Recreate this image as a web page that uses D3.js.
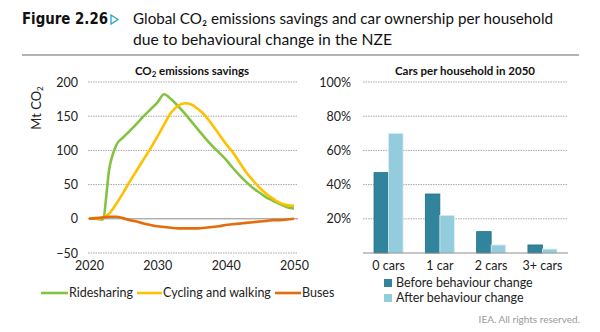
<!DOCTYPE html>
<html>
<head>
<meta charset="utf-8">
<script src="https://cdn.jsdelivr.net/npm/d3@7"></script>
<style>
  body { margin: 0; background: #fff; }
  svg { display: block; font-family: Lato, "Open Sans", sans-serif; }
</style>
</head>
<body>
<svg id="chart" width="600" height="332"></svg>
<script>
/* Data */
const years = d3.range(2020, 2051);
const ridesharing = [0, 0, -1, 75, 108, 119, 129, 139, 150, 160, 170, 182, 175, 165, 154, 142, 130, 118, 107, 97, 87, 75, 64, 54, 45, 38, 31, 26, 21, 17, 15];
const cycling = [0, 0, 2, 8, 22, 38, 55, 71, 87, 103, 120, 138, 155, 165, 169, 167, 160, 151, 138, 124, 110, 98, 83, 68, 56, 45, 36, 29, 23, 20, 19];
const buses = [0, 1, 2, 3, 3, 1, -2, -4, -7, -9, -11, -12, -13, -14, -14, -14, -14, -13, -12, -11, -9, -8, -7, -6, -5, -4, -3, -2, -2, -1, 0];
const lineNames = ["Ridesharing", "Cycling and walking", "Buses"];
const yTicksLeft = [-50, 0, 50, 100, 150, 200];
const xTicksLeft = [2020, 2030, 2040, 2050];

const carCats = ["0 cars", "1 car", "2 cars", "3+ cars"];
const beforeChange = [0.47, 0.345, 0.125, 0.047];
const afterChange = [0.70, 0.22, 0.047, 0.023];
const barNames = ["Before behaviour change", "After behaviour change"];
const yTicksRight = [0, 0.2, 0.4, 0.6, 0.8, 1.0];

const LINE_COLORS = ["#84c341", "#ffc000", "#e46c0a"];
const BAR_COLORS = ["#31849b", "#93cddd"];
const GRID = "#a6a6a6";

const svg = d3.select("#chart");

/* Header */
svg.append("text")
    .attr("x", 22).attr("y", 24)
    .attr("font-family", "'DejaVu Sans', sans-serif")
    .attr("font-weight", "bold").attr("font-size", 15)
    .attr("fill", "#111")
    .attr("textLength", 86).attr("lengthAdjust", "spacingAndGlyphs")
    .text("Figure 2.26");
svg.append("path")
    .attr("d", "M111,15 L118,19.5 L111,24 Z")
    .attr("fill", "none").attr("stroke", "#2aa3c8").attr("stroke-width", 1.3);
svg.append("text")
    .attr("x", 133).attr("y", 24)
    .attr("font-family", "Lato, sans-serif")
    .attr("font-size", 15).attr("fill", "#111")
    .attr("textLength", 420).attr("lengthAdjust", "spacingAndGlyphs")
    .text("Global CO\u2082 emissions savings and car ownership per household");
svg.append("text")
    .attr("x", 133).attr("y", 45)
    .attr("font-family", "Lato, sans-serif")
    .attr("font-size", 15).attr("fill", "#111")
    .attr("textLength", 259).attr("lengthAdjust", "spacingAndGlyphs")
    .text("due to behavioural change in the NZE");
svg.append("line")
    .attr("x1", 22).attr("x2", 579).attr("y1", 55).attr("y2", 55)
    .attr("stroke", "#9a9a9a").attr("stroke-width", 1.5);

/* Left chart: line chart */
const xL = d3.scaleLinear().domain([2020, 2050]).range([89, 294]);
const yL = d3.scaleLinear().domain([-50, 200]).range([253, 82]);

const left = svg.append("g");

let title = left.append("text")
    .attr("x", 192).attr("y", 75)
    .attr("text-anchor", "middle")
    .attr("font-weight", "bold").attr("font-size", 11.5).attr("fill", "#111");
title.append("tspan").text("CO");
title.append("tspan").attr("font-size", 8).attr("dy", 2).text("2");
title.append("tspan").attr("dy", -2).text(" emissions savings");

let yLabel = left.append("text")
    .attr("transform", "translate(41,108) rotate(-90)")
    .attr("text-anchor", "middle")
    .attr("font-size", 13).attr("fill", "#222");
yLabel.append("tspan").text("Mt CO");
yLabel.append("tspan").attr("font-size", 8).attr("dy", 2).text("2");

left.selectAll(".gridL")
    .data(yTicksLeft.filter(d => d !== 0))
    .enter().append("line")
    .attr("x1", 88).attr("x2", 298)
    .attr("y1", d => yL(d)).attr("y2", d => yL(d))
    .attr("stroke", GRID).attr("stroke-width", 1).attr("stroke-dasharray", "1.5,1");

left.append("line")
    .attr("x1", 88).attr("x2", 298)
    .attr("y1", yL(0)).attr("y2", yL(0))
    .attr("stroke", "#8c8c8c").attr("stroke-width", 1);

const yAxisL = left.append("g")
    .attr("transform", "translate(80,0)")
    .call(d3.axisLeft(yL).tickValues(yTicksLeft).tickSize(0).tickPadding(2));
yAxisL.select(".domain").remove();
yAxisL.selectAll("text").attr("font-size", 12.5).attr("fill", "#222")
    .attr("font-family", "Lato, sans-serif");

const xAxisL = left.append("g")
    .attr("transform", "translate(0,258)")
    .call(d3.axisBottom(xL).tickValues(xTicksLeft).tickFormat(d3.format("d")).tickSize(0).tickPadding(3));
xAxisL.select(".domain").remove();
xAxisL.selectAll("text").attr("font-size", 12.5).attr("fill", "#222")
    .attr("font-family", "Lato, sans-serif");

const line = d3.line()
    .x((d, i) => xL(years[i]))
    .y(d => yL(d))
    .curve(d3.curveMonotoneX);

[ridesharing, cycling, buses].forEach((series, i) => {
    left.append("path")
        .datum(series)
        .attr("d", line)
        .attr("fill", "none")
        .attr("stroke", LINE_COLORS[i])
        .attr("stroke-width", 2.6)
        .attr("stroke-linejoin", "round");
});

/* Left legend */
const legL = [
    {x1: 41, x2: 68, tx: 69},
    {x1: 137, x2: 162, tx: 163},
    {x1: 275, x2: 301, tx: 302}
];
legL.forEach((p, i) => {
    left.append("line")
        .attr("x1", p.x1).attr("x2", p.x2).attr("y1", 293).attr("y2", 293)
        .attr("stroke", LINE_COLORS[i]).attr("stroke-width", 2.6);
    left.append("text")
        .attr("x", p.tx).attr("y", 297)
        .attr("font-size", 12.5).attr("fill", "#222")
        .text(lineNames[i]);
});

/* Right chart: grouped bars */
const xR = d3.scaleBand().domain(carCats).range([363, 568])
    .paddingInner(0.434).paddingOuter(0.215);
const xSub = d3.scaleBand().domain([0, 1]).range([0, xR.bandwidth()]);
const yR = d3.scaleLinear().domain([0, 1]).range([253, 82]);

const right = svg.append("g");

right.append("text")
    .attr("x", 465).attr("y", 75)
    .attr("text-anchor", "middle")
    .attr("font-weight", "bold").attr("font-size", 11.5).attr("fill", "#111")
    .text("Cars per household in 2050");

right.selectAll(".gridR")
    .data(yTicksRight.filter(d => d > 0))
    .enter().append("line")
    .attr("x1", 363).attr("x2", 568)
    .attr("y1", d => yR(d)).attr("y2", d => yR(d))
    .attr("stroke", GRID).attr("stroke-width", 1).attr("stroke-dasharray", "1.5,1");

const yAxisR = right.append("g")
    .attr("transform", "translate(353,0)")
    .call(d3.axisLeft(yR).tickValues(yTicksRight.filter(d => d > 0)).tickFormat(d3.format(".0%")).tickSize(0).tickPadding(2));
yAxisR.select(".domain").remove();
yAxisR.selectAll("text").attr("font-size", 12.5).attr("fill", "#222")
    .attr("font-family", "Lato, sans-serif");

const barData = carCats.map((c, i) => ({cat: c, vals: [beforeChange[i], afterChange[i]]}));
const groups = right.selectAll(".grp")
    .data(barData)
    .enter().append("g")
    .attr("transform", d => `translate(${xR(d.cat)},0)`);
groups.selectAll("rect")
    .data(d => d.vals.map((v, k) => ({v, k})))
    .enter().append("rect")
    .attr("x", d => xSub(d.k))
    .attr("width", xSub.bandwidth())
    .attr("y", d => yR(d.v))
    .attr("height", d => yR(0) - yR(d.v))
    .attr("fill", d => BAR_COLORS[d.k])
    .attr("stroke", d => d.k === 0 ? "#1f6f84" : "#d8eef4")
    .attr("stroke-width", 0.8);

right.append("line")
    .attr("x1", 363).attr("x2", 568)
    .attr("y1", yR(0)).attr("y2", yR(0))
    .attr("stroke", "#8c8c8c").attr("stroke-width", 1.2);

const xAxisR = right.append("g")
    .attr("transform", "translate(0,258)")
    .call(d3.axisBottom(xR).tickSize(0).tickPadding(3));
xAxisR.select(".domain").remove();
xAxisR.selectAll("text").attr("font-size", 12.5).attr("fill", "#222")
    .attr("font-family", "Lato, sans-serif");

barNames.forEach((name, i) => {
    right.append("rect")
        .attr("x", 384).attr("y", 279 + i * 15)
        .attr("width", 8).attr("height", 8)
        .attr("fill", BAR_COLORS[i]);
    right.append("text")
        .attr("x", 396).attr("y", 287 + i * 15)
        .attr("font-size", 12.5).attr("fill", "#222")
        .text(name);
});

svg.append("text")
    .attr("x", 580).attr("y", 323)
    .attr("text-anchor", "end")
    .attr("font-size", 10).attr("fill", "#9a9a9a")
    .text("IEA. All rights reserved.");
</script>
</body>
</html>
